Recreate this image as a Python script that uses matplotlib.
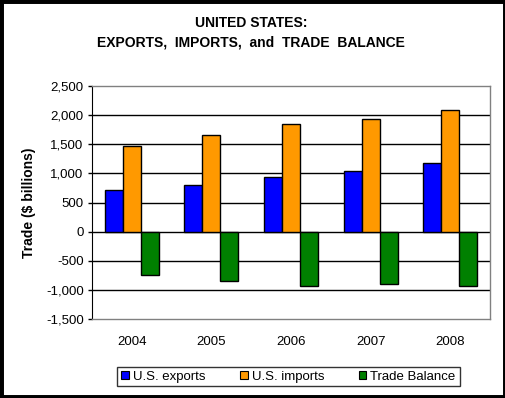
import matplotlib
matplotlib.use("Agg")
import matplotlib.pyplot as plt
from matplotlib.patches import Rectangle
from matplotlib.ticker import FuncFormatter
import numpy as np

plt.rcParams['font.family'] = ['Liberation Sans', 'DejaVu Sans']

# values ($ billions)
years = ["2004", "2005", "2006", "2007", "2008"]
exports = [715, 808, 945, 1048, 1186]
imports = [1478, 1667, 1856, 1942, 2096]
balance = [-739, -854, -928, -893, -928]

series_names = ["U.S. exports", "U.S. imports", "Trade Balance"]
colors = ["#0000FF", "#FF9900", "#008000"]

fig = plt.figure(figsize=(5.06, 3.98), dpi=100)
ax = fig.add_axes([92 / 506, 79 / 398, 398 / 506, 233 / 398])

x = np.arange(len(years))
w = 0.226
for i, (vals, name, c) in enumerate(zip([exports, imports, balance], series_names, colors)):
    ax.bar(x + (i - 1) * w, vals, w, color=c, edgecolor="black", linewidth=1,
           label=name, zorder=3)

ax.set_xlim(-0.5, len(years) - 0.5)
ax.set_ylim(-1500, 2500)
ax.set_yticks(range(-1500, 2501, 500))
ax.yaxis.set_major_formatter(FuncFormatter(lambda v, p: f"{v:,.0f}"))
ax.set_xticks(x)
ax.set_xticklabels(years)

# black gridlines inside the plot
for v in range(-1000, 2001, 500):
    ax.axhline(v, color="black", linewidth=1, zorder=1)

for s in ["top", "right", "bottom"]:
    ax.spines[s].set_color("#808080")
    ax.spines[s].set_linewidth(1)
ax.spines["left"].set_color("black")

ax.tick_params(axis="y", direction="out", length=3, width=1, labelsize=9.5, pad=3)
ax.tick_params(axis="x", length=0, labelsize=9.5, pad=12)

ax.set_ylabel("Trade ($ billions)", fontsize=10, fontweight="bold")
ax.yaxis.set_label_coords(-0.14, 0.5)

fig.text(0.496, 0.942, "UNITED STATES:", ha="center", va="center",
         fontsize=10, fontweight="bold")
fig.text(0.496, 0.892, "EXPORTS,  IMPORTS,  and  TRADE  BALANCE", ha="center",
         va="center", fontsize=10, fontweight="bold")

leg = fig.legend(loc="center", bbox_to_anchor=(0.570, 0.054), ncol=3,
                 fontsize=9.5, frameon=True, fancybox=False, handlelength=0.6,
                 handleheight=0.6, handletextpad=0.3, columnspacing=2.6,
                 borderpad=0.3)
leg.get_frame().set_edgecolor("black")
leg.get_frame().set_linewidth(1)
for h in leg.legend_handles:
    h.set_edgecolor("black")
    h.set_linewidth(0.8)

# black frame around the whole picture
fig.add_artist(Rectangle((0, 0), 1, 1, transform=fig.transFigure, fill=False,
                         edgecolor="black", linewidth=5))

fig.savefig("out.png", dpi=100)
